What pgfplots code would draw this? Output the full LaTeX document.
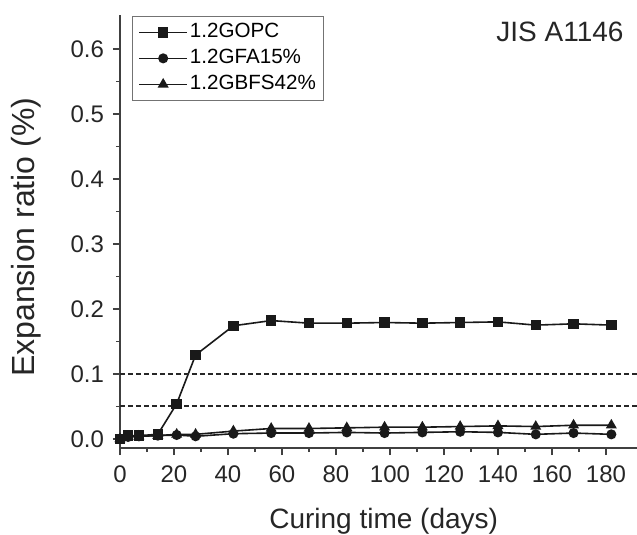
\documentclass[border=0pt]{standalone}
\usepackage{pgfplots}
\pgfplotsset{compat=1.18}
\usepackage{fontspec}
\setmainfont{Liberation Sans}
\begin{document}
\begin{tikzpicture}
\begin{axis}[
  name=ax,
  scale only axis,
  width=258.5pt, height=216.5pt,
  xmin=0, xmax=191.5,
  ymin=-0.014, ymax=0.652,
  axis x line=bottom, axis y line=left,
  axis line style={-, black!75, line width=0.8pt},
  tick align=outside,
  tick style={black!75, line width=0.7pt},
  major tick length=3.5pt, minor tick length=2pt,
  xtick={0,20,...,180}, minor x tick num=1,
  ytick={0,0.1,...,0.6}, minor y tick num=1,
  /pgf/number format/assume math mode=true,
  yticklabel style={/pgf/number format/fixed, /pgf/number format/fixed zerofill, /pgf/number format/precision=1, xshift=-1pt},
  ticklabel style={font=\fontsize{12}{14}\selectfont, text=black!85},
  xticklabel style={yshift=-2pt},
  xlabel={Curing time (days)},
  ylabel={Expansion ratio (\%)},
  xlabel style={font=\fontsize{14}{16}\selectfont, at={(axis description cs:0.51,-0.186)}, anchor=base, text=black!85},
  ylabel style={font=\fontsize{16}{18}\selectfont, at={(axis description cs:-0.182,0.487)}, anchor=center, text=black!85},
  clip=false,
  legend style={at={(axis description cs:0.023,0.998)}, anchor=north west,
    draw=black!55, line width=0.5pt, inner xsep=3pt, inner ysep=2pt,
    font=\fontsize{10.3}{12}\selectfont, row sep=1pt,
    nodes={inner sep=1pt, text height=7.5pt, text depth=2.5pt}},
  legend cell align=left,
  legend image code/.code={\draw[mark repeat=2,mark phase=2] plot coordinates {(0pt,0pt) (12pt,0pt) (24pt,0pt)};},
]
\addplot[black!90, line width=0.8pt, mark=square*, mark size=2.2pt, mark options={solid}] coordinates {
(0,0.000) (3,0.005) (7,0.005) (14,0.007) (21,0.054) (28,0.129) (42,0.174) (56,0.182) (70,0.178) (84,0.178) (98,0.179) (112,0.178) (126,0.179) (140,0.180) (154,0.175) (168,0.177) (182,0.175)};
\addlegendentry{1.2GOPC}
\addplot[black!90, line width=0.8pt, mark=*, mark size=2.1pt, mark options={solid}] coordinates {
(0,0.000) (3,0.003) (7,0.004) (14,0.005) (21,0.006) (28,0.004) (42,0.008) (56,0.009) (70,0.009) (84,0.010) (98,0.009) (112,0.010) (126,0.011) (140,0.010) (154,0.007) (168,0.009) (182,0.007)};
\addlegendentry{1.2GFA15\%}
\addplot[black!90, line width=0.8pt, mark=triangle*, mark size=2.4pt, mark options={solid}] coordinates {
(0,0.000) (3,0.003) (7,0.004) (14,0.005) (21,0.007) (28,0.007) (42,0.012) (56,0.016) (70,0.016) (84,0.017) (98,0.018) (112,0.018) (126,0.019) (140,0.020) (154,0.019) (168,0.021) (182,0.021)};
\addlegendentry{1.2GBFS42\%}
\addplot[black!85, line width=0.9pt, dash pattern=on 2.5pt off 1.5pt, forget plot] coordinates {(0,0.1) (191.5,0.1)};
\addplot[black!85, line width=0.9pt, dash pattern=on 2.5pt off 1.5pt, forget plot] coordinates {(0,0.05) (191.5,0.05)};
\node[font=\fontsize{14}{16}\selectfont, text=black!85, anchor=center] at (axis description cs:0.851,0.961) {JIS A1146};
\end{axis}
\pgfresetboundingbox
\path ([xshift=-60pt,yshift=-43.5pt]ax.south west) rectangle ([yshift=7.5pt]ax.north east);
\end{tikzpicture}
\end{document}
